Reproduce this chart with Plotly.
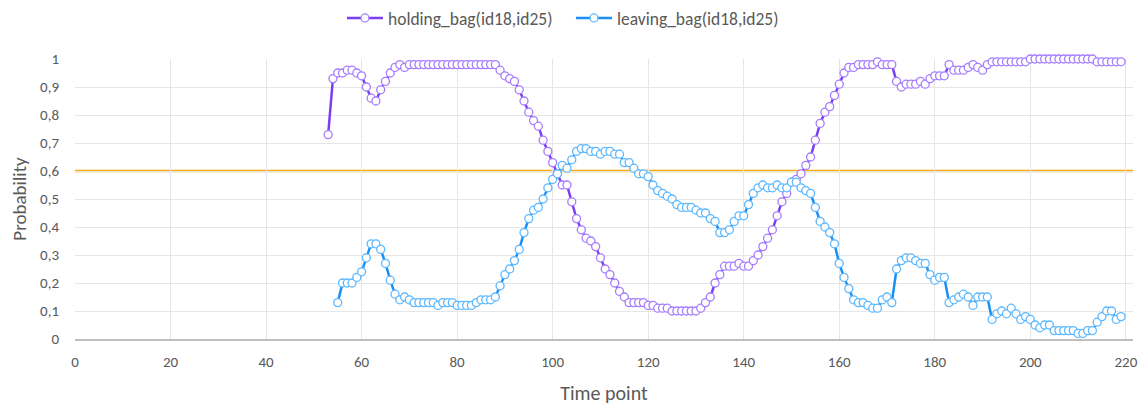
import plotly.graph_objects as go

# ---------------- data ----------------
holding_start = 53
holding = [
    0.73, 0.93, 0.95, 0.95, 0.96, 0.96, 0.95, 0.94, 0.90, 0.86, 0.85, 0.89, 0.92, 0.95, 0.97, 0.98, 0.97,
    0.98, 0.98, 0.98, 0.98, 0.98, 0.98, 0.98, 0.98, 0.98, 0.98, 0.98, 0.98, 0.98, 0.98, 0.98, 0.98, 0.98, 0.98, 0.98,
    0.96, 0.94, 0.93, 0.92, 0.89, 0.85, 0.81, 0.78, 0.76, 0.71, 0.67, 0.63,
    0.59, 0.55, 0.55, 0.49, 0.43, 0.39, 0.36, 0.35, 0.33, 0.29,
    0.25, 0.23, 0.20, 0.17, 0.15, 0.13, 0.13, 0.13, 0.13, 0.12,
    0.12, 0.11, 0.11, 0.11, 0.10, 0.10, 0.10, 0.10, 0.10, 0.10,
    0.11, 0.13, 0.15, 0.20, 0.23, 0.26, 0.26, 0.26, 0.27, 0.26,
    0.26, 0.28, 0.30, 0.33, 0.36, 0.39, 0.44, 0.49, 0.52, 0.56,
    0.57, 0.59, 0.62, 0.65, 0.71, 0.77, 0.81, 0.83, 0.87, 0.91,
    0.95, 0.97, 0.97, 0.98, 0.98, 0.98, 0.98, 0.99, 0.98, 0.98,
    0.98, 0.92, 0.90, 0.91, 0.91, 0.91, 0.92, 0.91, 0.93, 0.94,
    0.94, 0.94, 0.98, 0.96, 0.96, 0.96, 0.97, 0.98, 0.97, 0.96,
    0.98, 0.99, 0.99, 0.99, 0.99, 0.99, 0.99, 0.99, 0.99, 1.00,
    1.00, 1.00, 1.00, 1.00, 1.00, 1.00, 1.00, 1.00, 1.00, 1.00,
    1.00, 1.00, 1.00, 0.99, 0.99, 0.99, 0.99, 0.99, 0.99,
]

leaving_start = 55
leaving = [
    0.13, 0.20, 0.20, 0.20, 0.22, 0.24, 0.29, 0.34, 0.34, 0.32,
    0.27, 0.21, 0.16, 0.14, 0.15, 0.14, 0.13, 0.13, 0.13, 0.13,
    0.13, 0.12, 0.13, 0.13, 0.13, 0.12, 0.12, 0.12, 0.12, 0.13,
    0.14, 0.14, 0.14, 0.15, 0.19, 0.23, 0.25, 0.28, 0.32, 0.38,
    0.43, 0.46, 0.47, 0.50, 0.54, 0.57, 0.59, 0.62, 0.61, 0.64,
    0.67, 0.68, 0.68, 0.67, 0.67, 0.66, 0.67, 0.67, 0.66, 0.66,
    0.63, 0.63, 0.61, 0.59, 0.59, 0.58, 0.55, 0.53, 0.52, 0.51,
    0.50, 0.48, 0.47, 0.47, 0.47, 0.46, 0.45, 0.45, 0.43, 0.42,
    0.38, 0.38, 0.39, 0.42, 0.44, 0.44, 0.48, 0.52, 0.54, 0.55,
    0.54, 0.54, 0.55, 0.54, 0.54, 0.56, 0.56, 0.54, 0.53, 0.52,
    0.47, 0.42, 0.40, 0.38, 0.34, 0.27, 0.22, 0.18, 0.14, 0.13,
    0.13, 0.12, 0.11, 0.11, 0.14, 0.15, 0.13, 0.25, 0.28, 0.29,
    0.29, 0.28, 0.27, 0.27, 0.23, 0.21, 0.22, 0.22, 0.13, 0.14,
    0.15, 0.16, 0.15, 0.12, 0.15, 0.15, 0.15, 0.07, 0.09, 0.10,
    0.09, 0.11, 0.09, 0.07, 0.08, 0.07, 0.05, 0.04, 0.05, 0.05,
    0.03, 0.03, 0.03, 0.03, 0.03, 0.02, 0.02, 0.03, 0.03, 0.06,
    0.08, 0.10, 0.10, 0.07, 0.08,
]

holding_time = list(range(holding_start, holding_start + len(holding)))
leaving_time = list(range(leaving_start, leaving_start + len(leaving)))

series_names = ["holding_bag(id18,id25)", "leaving_bag(id18,id25)"]
threshold = 0.6

x_tickvals = [0, 20, 40, 60, 80, 100, 120, 140, 160, 180, 200, 220]
y_tickvals = [0, 0.1, 0.2, 0.3, 0.4, 0.5, 0.6, 0.7, 0.8, 0.9, 1]
y_ticktext = ["0", "0,1", "0,2", "0,3", "0,4", "0,5", "0,6", "0,7", "0,8", "0,9", "1"]

# ---------------- figure ----------------
FONT = "Calibri, Carlito, Lato, 'Open Sans', sans-serif"
TEXT = "#595959"
GRID = "#E6E6E6"

fig = go.Figure()
fig.add_trace(go.Scatter(
    x=holding_time, y=holding, name=series_names[0], mode="lines+markers",
    line=dict(color="#7B3FF2", width=2.5),
    marker=dict(symbol="circle", size=8, color="white",
                line=dict(color="#A67CFF", width=1.3)),
    cliponaxis=False,
))
fig.add_trace(go.Scatter(
    x=leaving_time, y=leaving, name=series_names[1], mode="lines+markers",
    line=dict(color="#1A8FF5", width=2.5),
    marker=dict(symbol="circle", size=8, color="white",
                line=dict(color="#5CB8FF", width=1.3)),
    cliponaxis=False,
))

fig.add_shape(type="line", xref="paper", x0=0, x1=1, yref="y", y0=threshold, y1=threshold,
              line=dict(color="#FFA70F", width=2.5), layer="below")

# the page body has an 8px default margin, so the figure is 8px smaller
fig.update_layout(
    width=1138, height=402, autosize=False,
    margin=dict(l=67, r=13, t=51, b=71, pad=0, autoexpand=False),
    paper_bgcolor="white", plot_bgcolor="white",
    font=dict(family=FONT, color=TEXT, size=15),
    showlegend=True,
    legend=dict(orientation="h", xref="container", yref="container",
                x=0.4947, xanchor="center", y=0.975, yanchor="middle",
                font=dict(family=FONT, size=17.5, color=TEXT), bgcolor="rgba(0,0,0,0)",
                itemwidth=36, entrywidth=178),
    xaxis=dict(
        range=[0, 221.5], tickmode="array", tickvals=x_tickvals,
        showgrid=True, gridcolor=GRID, gridwidth=1,
        showline=True, linecolor="#BFBFBF", linewidth=1.5,
        zeroline=False, ticks="", ticklabelstandoff=8, automargin=False,
        tickfont=dict(size=15, color=TEXT, family=FONT),
        title=dict(text="Time point", font=dict(size=20, color=TEXT, family=FONT), standoff=16),
    ),
    yaxis=dict(
        range=[0, 1], tickmode="array", tickvals=y_tickvals, ticktext=y_ticktext,
        showgrid=True, gridcolor=GRID, gridwidth=1,
        showline=False, zeroline=False, ticks="", ticklabelstandoff=15, automargin=False,
        tickfont=dict(size=15, color=TEXT, family=FONT),
        title=dict(text="Probability", font=dict(size=19, color=TEXT, family=FONT), standoff=13),
    ),
)

fig.write_html("out.html")
